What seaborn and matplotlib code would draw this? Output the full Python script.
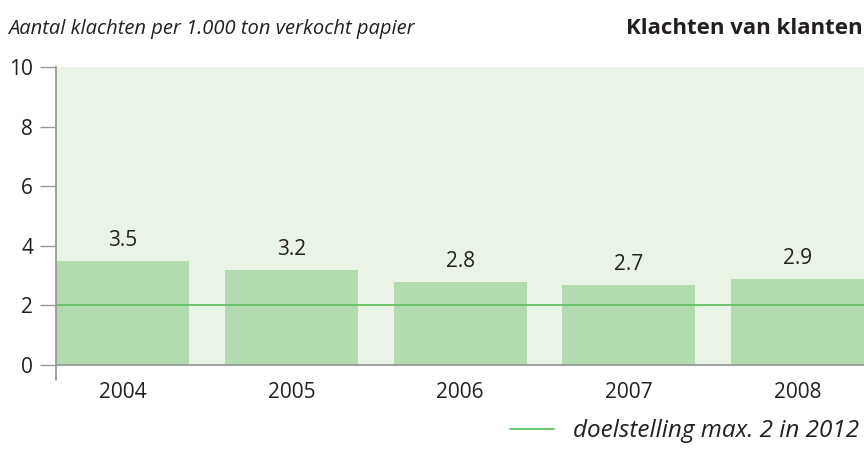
import matplotlib
matplotlib.use("Agg")
import matplotlib.pyplot as plt
from matplotlib.lines import Line2D
import seaborn as sns

years = ["2004", "2005", "2006", "2007", "2008"]
complaints = [3.5, 3.2, 2.8, 2.7, 2.9]
target = 2
yticks = [0, 2, 4, 6, 8, 10]

bar_color = "#b3dbb0"
bg_color = "#e9f4e7"
line_color = "#6cc36a"
axis_gray = "#9a9a9a"
text_color = "#231f20"

sns.set_style("white")
plt.rcParams["font.family"] = ["Open Sans", "DejaVu Sans"]

fig = plt.figure(figsize=(8.64, 4.63), dpi=100)
ax = fig.add_axes([0.065, 0.2117, 0.935, 0.6436])
ax.set_facecolor(bg_color)

sns.barplot(x=years, y=complaints, color=bar_color, saturation=1,
            width=0.79, linewidth=0, ax=ax)
ax.bar_label(ax.containers[0], labels=[f"{v:.1f}" for v in complaints],
             padding=7, fontsize=15, color=text_color)

ax.axhline(target, color=line_color, lw=1.4)

ax.set_xlim(-0.395, 4.394)
ax.set_ylim(0, 10)
ax.set_yticks(yticks)
ax.set_xlabel("")
ax.set_ylabel("")

for s in ["top", "right"]:
    ax.spines[s].set_visible(False)
for s in ["left", "bottom"]:
    ax.spines[s].set_color(axis_gray)
    ax.spines[s].set_linewidth(1.3)
# left axis runs a bit below zero
ax.plot([-0.395, -0.395], [0, -0.5], color=axis_gray, lw=1.3, clip_on=False)

ax.tick_params(axis="y", length=11.5, width=1, color=axis_gray, pad=5,
               labelsize=15, labelcolor=text_color, left=True)
ax.tick_params(axis="x", length=0, pad=12, labelsize=15, labelcolor=text_color)

fig.text(0.009, 0.938, "Aantal klachten per 1.000 ton verkocht papier",
         fontsize=14.5, style="italic", color=text_color, va="center")
fig.text(0.998, 0.938, "Klachten van klanten", fontsize=16, weight="bold",
         color=text_color, va="center", ha="right")

handle = Line2D([], [], color=line_color, lw=1.4)
leg = fig.legend([handle], ["doelstelling max. 2 in 2012"], loc="center right",
                 bbox_to_anchor=(1.0, 0.069), frameon=False, handlelength=1.8,
                 handletextpad=0.8, borderaxespad=0.1, borderpad=0.1,
                 prop={"style": "italic", "size": 17.5})
for t in leg.get_texts():
    t.set_color(text_color)

fig.savefig("out.png", dpi=100)
